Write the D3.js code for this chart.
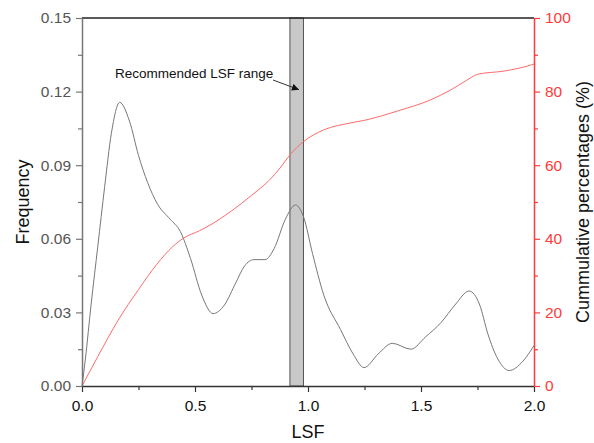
<!DOCTYPE html>
<html>
<head>
<meta charset="utf-8">
<script src="https://cdn.jsdelivr.net/npm/d3@7"></script>
<style>
  body { margin: 0; background: #fff; }
  text { font-family: "Liberation Sans", Arial, sans-serif; }
</style>
</head>
<body>
<script>
// frequency curve (LSF, frequency)
const freqLsf = [0, 0.015, 0.04, 0.07, 0.10, 0.13, 0.167, 0.21, 0.25, 0.29, 0.335, 0.39, 0.435, 0.48, 0.53, 0.58, 0.63, 0.68, 0.72, 0.76, 0.81, 0.85, 0.90, 0.945, 0.98, 1.02, 1.07, 1.144, 1.20, 1.248, 1.31, 1.373, 1.455, 1.52, 1.59, 1.65, 1.713, 1.76, 1.795, 1.84, 1.89, 1.95, 2.0];
const freqVal = [0, 0.011, 0.033, 0.057, 0.081, 0.103, 0.1156, 0.108, 0.094, 0.083, 0.074, 0.068, 0.063, 0.052, 0.037, 0.0295, 0.033, 0.042, 0.049, 0.0515, 0.0515, 0.056, 0.068, 0.0738, 0.069, 0.054, 0.037, 0.023, 0.013, 0.0075, 0.013, 0.0174, 0.015, 0.020, 0.026, 0.033, 0.0387, 0.033, 0.0215, 0.011, 0.0063, 0.010, 0.0165];

// cumulative percentage curve
const cumLsf = [0, 0.07, 0.16, 0.25, 0.33, 0.40, 0.45, 0.52, 0.58, 0.66, 0.75, 0.83, 0.88, 0.92, 0.98, 1.07, 1.19, 1.25, 1.40, 1.54, 1.63, 1.70, 1.75, 1.87, 1.99, 2.0];
const cumVal = [0, 8, 17.9, 26.2, 33, 37.8, 40.2, 42.2, 44.2, 47.5, 51.8, 56, 59.5, 62.8, 66.4, 69.6, 71.5, 72.2, 74.8, 77.7, 80.4, 83, 84.7, 85.6, 87.3, 87.5];

const bandRange = [0.92, 0.98];
const xTicks = [0, 0.5, 1.0, 1.5, 2.0];
const yTicks = [0, 0.03, 0.06, 0.09, 0.12, 0.15];
const y2Ticks = [0, 20, 40, 60, 80, 100];

const W = 594, H = 443;
const m = { left: 82, right: 60, top: 18, bottom: 57 };
const red = '#ff3b3b';

const svg = d3.select('body').append('svg')
  .attr('width', W).attr('height', H);

const x = d3.scaleLinear().domain([0, 2]).range([m.left, W - m.right]);
const y = d3.scaleLinear().domain([0, 0.15]).range([H - m.bottom, m.top]);
const y2 = d3.scaleLinear().domain([0, 100]).range([H - m.bottom, m.top]);

// recommended band
svg.append('rect')
  .attr('x', x(bandRange[0]))
  .attr('y', m.top)
  .attr('width', x(bandRange[1]) - x(bandRange[0]))
  .attr('height', y(0) - m.top)
  .attr('fill', '#c8c8c8')
  .attr('stroke', '#555')
  .attr('stroke-width', 1);

// curves
const freqLine = d3.line()
  .x(d => x(d[0])).y(d => y(d[1]))
  .curve(d3.curveMonotoneX);
svg.append('path')
  .datum(d3.zip(freqLsf, freqVal))
  .attr('d', freqLine)
  .attr('fill', 'none')
  .attr('stroke', '#777')
  .attr('stroke-width', 1);

const cumLine = d3.line()
  .x(d => x(d[0])).y(d => y2(d[1]))
  .curve(d3.curveMonotoneX);
svg.append('path')
  .datum(d3.zip(cumLsf, cumVal))
  .attr('d', cumLine)
  .attr('fill', 'none')
  .attr('stroke', '#ff6b6b')
  .attr('stroke-width', 1);

// top frame
svg.append('line')
  .attr('x1', x(0)).attr('x2', x(2))
  .attr('y1', m.top).attr('y2', m.top)
  .attr('stroke', '#222').attr('stroke-width', 1.5);

// axes
function styleAxis(g, lineColor, textColor) {
  g.select('.domain').attr('stroke', lineColor).attr('stroke-width', 1.5);
  g.selectAll('.tick line').attr('stroke', lineColor).attr('stroke-width', 1.2);
  g.selectAll('text').attr('fill', textColor)
    .style('font-size', '15.5px')
    .style('font-family', '"Liberation Sans", Arial, sans-serif');
}

// minor ticks
const gxm = svg.append('g').attr('transform', `translate(0,${y(0)})`)
  .call(d3.axisBottom(x).tickValues(d3.range(0.25, 2, 0.5)).tickSize(4).tickFormat(''));
gxm.select('.domain').remove();
gxm.selectAll('line').attr('stroke', '#333').attr('stroke-width', 1.2);

const gym = svg.append('g').attr('transform', `translate(${x(0)},0)`)
  .call(d3.axisLeft(y).tickValues(d3.range(0.015, 0.15, 0.03)).tickSize(4).tickFormat(''));
gym.select('.domain').remove();
gym.selectAll('line').attr('stroke', '#777').attr('stroke-width', 1.2);

const gy2m = svg.append('g').attr('transform', `translate(${x(2)},0)`)
  .call(d3.axisRight(y2).tickValues(d3.range(10, 100, 20)).tickSize(4).tickFormat(''));
gy2m.select('.domain').remove();
gy2m.selectAll('line').attr('stroke', red).attr('stroke-width', 1.2);

const gx = svg.append('g').attr('transform', `translate(0,${y(0)})`)
  .call(d3.axisBottom(x).tickValues(xTicks).tickSize(6).tickSizeOuter(0).tickPadding(8).tickFormat(d3.format('.1f')));
styleAxis(gx, '#333', '#111');

const gy = svg.append('g').attr('transform', `translate(${x(0)},0)`)
  .call(d3.axisLeft(y).tickValues(yTicks).tickSize(6).tickSizeOuter(0).tickPadding(5).tickFormat(d3.format('.2f')));
styleAxis(gy, '#777', '#555');

const gy2 = svg.append('g').attr('transform', `translate(${x(2)},0)`)
  .call(d3.axisRight(y2).tickValues(y2Ticks).tickSize(6).tickSizeOuter(0).tickPadding(5));
styleAxis(gy2, red, red);

// axis titles
svg.append('text')
  .attr('x', (x(0) + x(2)) / 2).attr('y', 438)
  .attr('text-anchor', 'middle')
  .style('font-size', '18px').attr('fill', '#111')
  .text('LSF');

svg.append('text')
  .attr('transform', `translate(29,${(m.top + y(0)) / 2}) rotate(-90)`)
  .attr('text-anchor', 'middle')
  .style('font-size', '18px').attr('fill', '#111')
  .text('Frequency');

svg.append('text')
  .attr('transform', `translate(589,${(m.top + y(0)) / 2}) rotate(-90)`)
  .attr('text-anchor', 'middle')
  .style('font-size', '18px').attr('fill', '#111')
  .text('Cummulative percentages (%)');

// annotation
svg.append('defs').append('marker')
  .attr('id', 'arrow')
  .attr('viewBox', '0 0 10 10')
  .attr('refX', 10).attr('refY', 5)
  .attr('markerWidth', 9).attr('markerHeight', 7)
  .attr('markerUnits', 'userSpaceOnUse')
  .attr('orient', 'auto')
  .append('path').attr('d', 'M0,0L10,5L0,10Z').attr('fill', '#111');

svg.append('text')
  .attr('x', 115).attr('y', 78)
  .style('font-size', '13.5px').attr('fill', '#111')
  .text('Recommended LSF range');

svg.append('line')
  .attr('x1', 273).attr('y1', 80)
  .attr('x2', x(0.96)).attr('y2', y(0.1208))
  .attr('stroke', '#333').attr('stroke-width', 1)
  .attr('marker-end', 'url(#arrow)');
</script>
</body>
</html>
